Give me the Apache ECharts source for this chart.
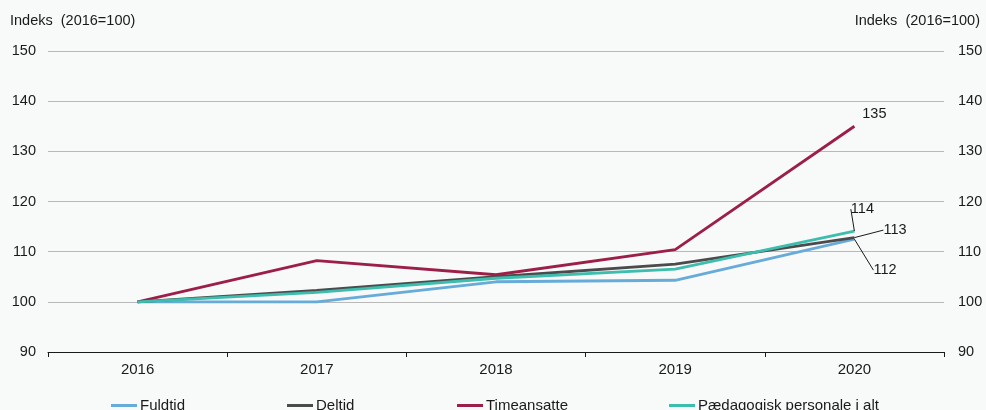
<!DOCTYPE html>
<html><head><meta charset="utf-8">
<script src="https://cdn.jsdelivr.net/npm/echarts@6/dist/echarts.min.js"></script>
<style>html,body{margin:0;padding:0;background:#f8f9f9}#c{width:986px;height:410px}</style>
</head><body><div id="c"></div>
<script>
const categories = ['2016','2017','2018','2019','2020'];
const fuldtid = [100, 100, 104.0, 104.3, 112.5];
const deltid = [100, 102.3, 105.0, 107.5, 112.8];
const timeansatte = [100, 108.2, 105.4, 110.4, 135.0];
const paedagogisk = [100, 101.9, 104.7, 106.5, 114.1];
const endLabels = ['112', '113', '135', '114'];
const yTicks = [90, 100, 110, 120, 130, 140, 150];

const FONT = '"Liberation Sans", Arial, Helvetica, sans-serif';
const colors = ['#67abd9', '#4b4b4d', '#9c1f48', '#3dbdad'];
const names = ['Fuldtid', 'Deltid', 'Timeansatte', 'Pædagogisk personale i alt'];
const values = [fuldtid, deltid, timeansatte, paedagogisk];
const labelCfg = [
  {position: 'right', dx: 14, dy: 31},
  {position: 'right', dx: 24, dy: -7.5},
  {position: 'top', dx: 20, dy: 0, noLine: true},
  {position: 'top', dx: 8, dy: -9.5}
];

const series = values.map((v, i) => ({
  name: names[i],
  type: 'line',
  symbol: 'circle',
  symbolSize: 0,
  showSymbol: true,
  yAxisIndex: 0,
  lineStyle: {color: colors[i], width: 2.8},
  itemStyle: {color: colors[i]},
  z: [2, 3, 4, 5][i],
  label: {show: false},
  data: v.map((val, j) => j === v.length - 1 ? {
    value: val,
    label: {show: true, formatter: endLabels[i], position: labelCfg[i].position, distance: 5,
      color: '#1a1a1a', fontSize: 14.5, fontFamily: FONT}
  } : val),
  labelLayout: {dx: labelCfg[i].dx, dy: labelCfg[i].dy},
  labelLine: {show: !labelCfg[i].noLine, lineStyle: {color: '#1a1a1a', width: 1}, smooth: false}
}));

const legendLefts = [111, 287, 457, 669];
const legends = names.map((n, i) => ({
  data: [n], left: legendLefts[i], top: 398, padding: 0, itemWidth: 26, itemHeight: 3, icon: 'rect',
  itemGap: 4, selectedMode: false,
  textStyle: {fontSize: 15, color: '#1a1a1a', fontFamily: FONT, padding: [0,0,0,-2]}
}));

const yAxisCommon = {
  type: 'value', min: 90, max: 150, interval: 10,
  axisLine: {show: false}, axisTick: {show: false},
  axisLabel: {fontSize: 14.5, color: '#1a1a1a', fontFamily: FONT,
    formatter: v => yTicks.includes(v) ? String(v) : ''}
};

const chart = echarts.init(document.getElementById('c'));
chart.setOption({
  backgroundColor: '#f8f9f9',
  animation: false,
  textStyle: {fontFamily: FONT},
  grid: {left: 48, right: 42, top: 51, bottom: 58},
  legend: legends,
  graphic: [
    {type: 'text', left: 10, top: 13, style: {text: 'Indeks  (2016=100)', fontSize: 14.5, fill: '#1a1a1a', fontFamily: FONT}},
    {type: 'text', right: 6, top: 13, style: {text: 'Indeks  (2016=100)', fontSize: 14.5, fill: '#1a1a1a', fontFamily: FONT}}
  ],
  xAxis: {
    type: 'category', data: categories, boundaryGap: true,
    axisLine: {lineStyle: {color: '#1a1a1a', width: 1}},
    axisTick: {show: true, length: 5, lineStyle: {color: '#1a1a1a'}},
    axisLabel: {fontSize: 15, color: '#1a1a1a', fontFamily: FONT, margin: 10},
    splitLine: {show: false}
  },
  yAxis: [
    Object.assign({}, yAxisCommon, {position: 'left', axisLabel: Object.assign({}, yAxisCommon.axisLabel, {margin: 12}),
      splitLine: {show: true, lineStyle: {color: '#b9b9b9', width: 1}}}),
    Object.assign({}, yAxisCommon, {position: 'right', axisLabel: Object.assign({}, yAxisCommon.axisLabel, {margin: 14}),
      splitLine: {show: false}})
  ],
  series: series
});
</script></body></html>
